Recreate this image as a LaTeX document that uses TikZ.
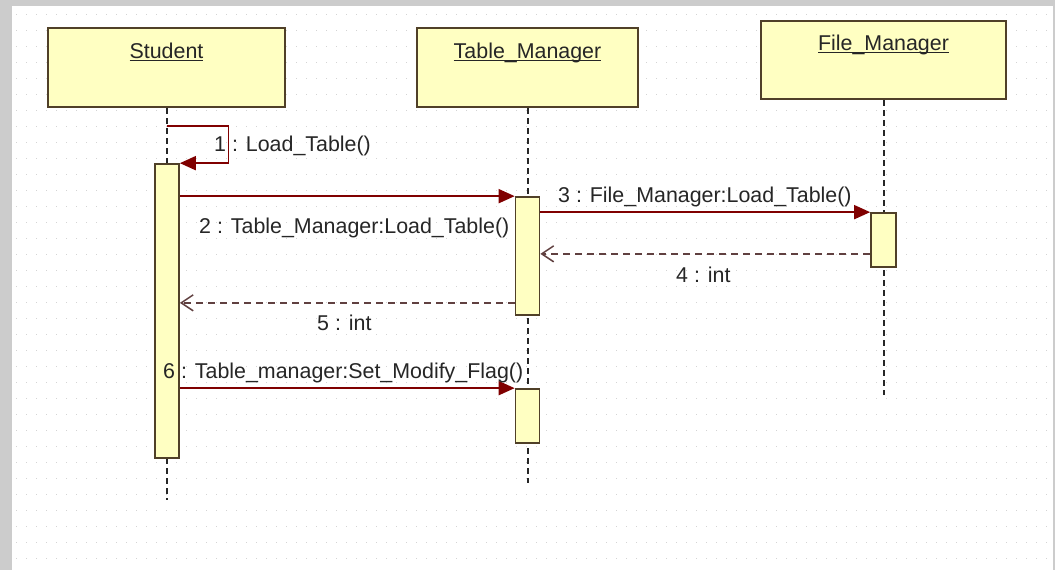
\documentclass[tikz,border=0pt]{standalone}
\usepackage{fontspec}
\setmainfont{Liberation Sans}
\usetikzlibrary{arrows.meta, calc}
\definecolor{objfill}{RGB}{255,255,194}
\definecolor{objline}{RGB}{80,64,40}
\definecolor{msgred}{RGB}{128,0,0}
\definecolor{retline}{RGB}{96,64,64}
\definecolor{dotgrey}{RGB}{212,212,212}
\tikzstyle{object} = [rectangle, draw=objline, line width=2pt, fill=objfill, minimum height=79pt, inner sep=0pt]
\tikzstyle{title} = [anchor=base, inner sep=0pt, text=black!85]
\tikzstyle{activation} = [rectangle, draw=objline, line width=1.7pt, fill=objfill, minimum width=24pt, inner sep=0pt]
\tikzstyle{lifeline} = [draw=black!85, line width=2pt, dash pattern=on 6pt off 4pt]
\tikzstyle{call} = [draw=msgred, line width=1.8pt, -{Triangle[length=16pt,width=14pt]}]
\tikzstyle{reply} = [draw=retline, line width=1.5pt, dash pattern=on 7pt off 5pt, -{Straight Barb[length=12pt,width=16pt]}]
\tikzstyle{msg} = [anchor=base west, inner sep=0pt, text=black!85]
\newcommand{\objname}[1]{\setbox0=\hbox{#1}\rlap{\vrule height -1.5pt depth 3.2pt width \wd0}\box0}

\begin{document}
\begin{tikzpicture}[x=1pt, y=-1pt, font=\fontsize{21.4}{25}\selectfont]
  \useasboundingbox (0,0) rectangle (1055,570);
  \fill[gray!40] (0,0) rectangle (1055,570);
  \fill[white] (12,6) rectangle (1053,570);
  \foreach \y in {14,30,...,566}
    \draw[dotgrey, line width=1pt, dash pattern=on 1pt off 9pt] (16,\y) -- (1050,\y);

  % objects
  \node (student) [object, minimum width=237pt] at (166.5,67.5) {};
  \node (table) [object, minimum width=221pt] at (527.5,67.5) {};
  \node (file) [object, minimum width=245pt, minimum height=78pt] at (883.5,60) {};
  \node (studentname) [title] at ($(student.north)+(0,31)$) {\objname{Student}};
  \node (tablename) [title] at ($(table.north)+(0,31)$) {\objname{Table\_Manager}};
  \node (filename) [title] at ($(file.north)+(0,30)$) {\objname{File\_Manager}};

  % lifelines
  \coordinate (studentend) at (166.5,500);
  \coordinate (tableend) at (527.5,483);
  \coordinate (fileend) at (883.5,395);
  \draw[lifeline] (student.south) -- (studentend);
  \draw[lifeline] (table.south) -- (tableend);
  \draw[lifeline] (file.south) -- (fileend);

  % activations
  \node (sa) [activation, minimum height=294pt] at (167,311) {};
  \node (ta1) [activation, minimum height=118pt] at (527.5,256) {};
  \node (fa) [activation, minimum width=25pt, minimum height=54pt] at (883.5,240) {};
  \node (ta2) [activation, minimum height=54pt] at (527.5,416) {};

  % messages
  \coordinate (selfstart) at ($(student.south)+(0,18)$);
  \draw[call] (selfstart) -- ++(62,0) |- (sa.north east);
  \node (l1) [msg] at (214,151) {1 : Load\_Table()};
  \draw[call] (sa.east |- ta1.north) -- (ta1.north west);
  \node (l2) [msg] at (199,233) {2 : Table\_Manager:Load\_Table()};
  \draw[call] (ta1.east |- fa.north) -- (fa.north west);
  \node (l3) [msg] at (558,202) {3 : File\_Manager:Load\_Table()};
  \draw[reply] ($(fa.south west)+(0,-14)$) coordinate (r4) -- (ta1.east |- r4);
  \node (l4) [msg] at (676,282) {4 : int};
  \draw[reply] ($(ta1.south west)+(0,-13)$) coordinate (r5) -- (sa.east |- r5);
  \node (l5) [msg] at (317,330) {5 : int};
  \draw[call] (sa.east |- ta2.north) -- (ta2.north west);
  \node (l6) [msg] at (163,378) {6 : Table\_manager:Set\_Modify\_Flag()};
\end{tikzpicture}
\end{document}
